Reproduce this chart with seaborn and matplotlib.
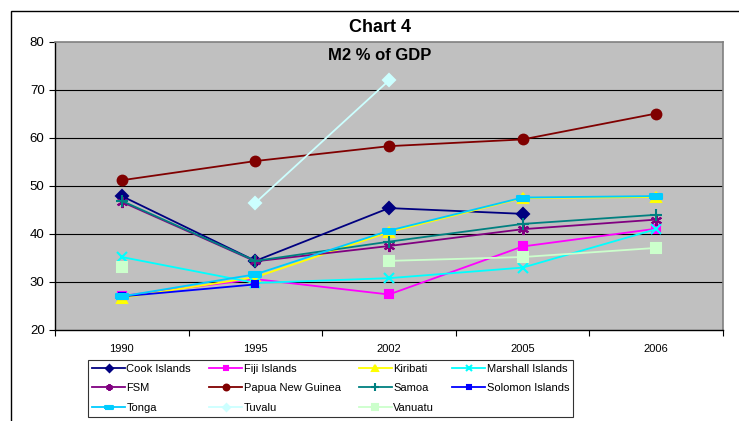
import numpy as np
import pandas as pd
import matplotlib
matplotlib.use("Agg")
import matplotlib.pyplot as plt
import seaborn as sns
from matplotlib.patches import Rectangle

# ---- data ----
years = ["1990", "1995", "2002", "2005", "2006"]
nan = np.nan
cook_islands = [47.9, 34.4, 45.4, 44.2, nan]
fiji_islands = [27.1, 30.6, 27.4, 37.4, 41.1]
kiribati = [26.7, 31.0, 40.4, 47.5, 47.7]
marshall_islands = [35.2, 29.8, 30.8, 33.0, 41.0]
fsm = [46.7, 34.3, 37.5, 41.0, 43.0]
papua_new_guinea = [51.2, 55.2, 58.3, 59.7, 65.1]
samoa = [46.9, 34.4, 38.4, 42.1, 44.0]
solomon_islands = [27.0, 29.5, nan, nan, nan]
tonga = [27.0, 31.6, 40.7, 47.6, 47.9]
tuvalu = [nan, 46.5, 72.0, nan, nan]
vanuatu = [33.1, nan, 34.4, 35.2, 37.1]

countries = ["Cook Islands", "Fiji Islands", "Kiribati", "Marshall Islands", "FSM",
             "Papua New Guinea", "Samoa", "Solomon Islands", "Tonga", "Tuvalu", "Vanuatu"]
values = [cook_islands, fiji_islands, kiribati, marshall_islands, fsm,
          papua_new_guinea, samoa, solomon_islands, tonga, tuvalu, vanuatu]

# ---- styles ----
dash = [(-1, -0.4), (1, -0.4), (1, 0.4), (-1, 0.4), (-1, -0.4)]
styles = {
    "Cook Islands":     dict(color="#000080", marker="D", ms=6),
    "Fiji Islands":     dict(color="#FF00FF", marker="s", ms=6),
    "Kiribati":         dict(color="#FFFF00", marker="^", ms=7),
    "Marshall Islands": dict(color="#00FFFF", marker="x", ms=7),
    "FSM":              dict(color="#800080", marker=(6, 2, 0), ms=8),
    "Papua New Guinea": dict(color="#800000", marker="o", ms=7),
    "Samoa":            dict(color="#008080", marker="+", ms=9),
    "Solomon Islands":  dict(color="#0000FF", marker="s", ms=4),
    "Tonga":            dict(color="#00CCFF", marker=dash, ms=9),
    "Tuvalu":           dict(color="#CCFFFF", marker="D", ms=6),
    "Vanuatu":          dict(color="#CCFFCC", marker="s", ms=7),
}

plt.rcParams["font.family"] = ["Liberation Sans", "DejaVu Sans"]

fig = plt.figure(figsize=(7.39, 4.21), dpi=100)
ax = fig.add_axes([55 / 739, 1 - 330 / 421, (723 - 55) / 739, (330 - 42) / 421])
ax.set_facecolor("#C0C0C0")

# draw each series, breaking lines at missing values
for name, vals in zip(countries, values):
    st = styles[name]
    df = pd.DataFrame({"pos": np.arange(len(years)), "value": vals})
    seg = df["value"].isna().cumsum()
    df = df.assign(seg=seg).dropna()
    first = True
    for _, part in df.groupby("seg"):
        sns.lineplot(data=part, x="pos", y="value", ax=ax, estimator=None,
                     color=st["color"], marker=st["marker"], markersize=st["ms"],
                     markeredgecolor=st["color"], markerfacecolor=st["color"],
                     markeredgewidth=1.5, linewidth=1.3,
                     label=name if first else None, legend=False)
        first = False

ax.set_xlim(-0.5, len(years) - 0.5)
ax.set_ylim(20, 80)
ax.set_yticks(range(20, 81, 10))
ax.set_xticks(np.arange(-0.5, len(years), 1.0))
ax.set_xticklabels([])
ax.set_xticks(np.arange(len(years)), minor=True)
ax.set_xticklabels(years, minor=True)
ax.tick_params(axis="x", which="minor", length=0, pad=10, labelsize=8)
ax.tick_params(axis="x", which="major", length=4, direction="out", color="black")
ax.tick_params(axis="y", length=4, direction="out", labelsize=9.5, color="black")
ax.set_xlabel("")
ax.set_ylabel("")

for y in range(30, 80, 10):
    ax.axhline(y, color="black", linewidth=0.8, zorder=0.5)

for side in ["left", "bottom"]:
    ax.spines[side].set_color("black")
    ax.spines[side].set_linewidth(1)
for side in ["top", "right"]:
    ax.spines[side].set_color("#808080")
    ax.spines[side].set_linewidth(1.2)

# titles
fig.text(380 / 739, 1 - 28 / 421, "Chart 4", ha="center", va="center",
         fontsize=13, fontweight="bold")
fig.text(380 / 739, 1 - 55 / 421, "M2 % of GDP", ha="center", va="center",
         fontsize=12, fontweight="bold")

# outer chart border
fig.add_artist(Rectangle((11 / 739, -0.1), 1.1, 1 - 11 / 421 + 0.1,
                         transform=fig.transFigure, fill=False,
                         edgecolor="black", linewidth=1))

# legend, filled row by row like the original
handles, labels = ax.get_legend_handles_labels()
order = [0, 4, 8, 1, 5, 9, 2, 6, 10, 3, 7]
leg = fig.legend([handles[i] for i in order], [labels[i] for i in order],
                 ncol=4, loc="upper left",
                 bbox_to_anchor=(88 / 739, 1 - 360 / 421, (573 - 88) / 739, 0.0),
                 bbox_transform=fig.transFigure, mode="expand",
                 fontsize=8, frameon=True, fancybox=False, edgecolor="black",
                 handlelength=3.0, handletextpad=0.1, borderpad=0.35,
                 labelspacing=0.85, borderaxespad=0, markerscale=0.6)
leg.get_frame().set_linewidth(0.8)

fig.savefig("out.png", dpi=100, facecolor="white")
